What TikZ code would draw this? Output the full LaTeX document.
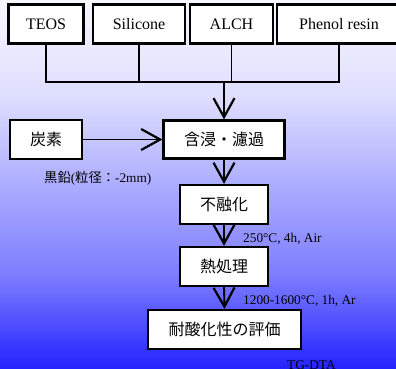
\documentclass[tikz,border=0pt]{standalone}
\usepackage{fontspec}
\setmainfont{Liberation Serif}
\newfontfamily\cjk{Noto Sans CJK JP}
\definecolor{bgA}{RGB}{247,247,255}
\definecolor{bgB}{RGB}{222,222,255}
\definecolor{bgC}{RGB}{172,172,255}
\definecolor{bgD}{RGB}{125,125,255}
\definecolor{bgE}{RGB}{35,35,255}
\usetikzlibrary{arrows.meta,positioning}

\begin{document}
\begin{tikzpicture}[x=1pt, y=-1pt,
  box/.style={draw, line width=2.2pt, fill=white, inner sep=0pt, minimum height=39pt, font=\fontsize{16}{19}\selectfont},
  jbox/.style={box, font=\fontsize{16}{19}\selectfont\cjk},
  note/.style={anchor=base west, inner sep=0pt, font=\fontsize{13.3}{16}\selectfont},
  tree/.style={line width=1.6pt},
  flow/.style={line width=1.9pt, -{Straight Barb[length=19pt,width=21pt,line width=2.2pt]}}]
  \useasboundingbox (0,0) rectangle (396,368);

  %--- Background ---
  \shade[top color=bgA, bottom color=bgB] (0,0) rectangle (396,96.5);
  \shade[top color=bgB, bottom color=bgC] (0,96) rectangle (396,185.5);
  \shade[top color=bgC, bottom color=bgD] (0,185) rectangle (396,275.5);
  \shade[top color=bgD, bottom color=bgE] (0,275) rectangle (396,368);

  %--- Raw materials ---
  \node[box, minimum width=75pt] (teos) at (46,24) {TEOS};
  \node[box, minimum width=92pt] (silicone) at (139,24) {Silicone};
  \node[box, minimum width=83pt] (alch) at (231.5,24) {ALCH};
  \node[box, minimum width=124pt] (phenol) at (339,24) {Phenol resin};

  \coordinate (join) at (224,82);
  \draw[tree] (teos.south) |- (join);
  \draw[tree] (silicone.south) |- (join);
  \draw[tree] (alch.south) |- (join);
  \draw[tree] (phenol.south) |- (join);

  %--- Process ---
  \node[jbox, minimum width=72pt] (carbon) at (46,139.5) {炭素};
  \node[jbox, minimum width=121pt, minimum height=38pt] (impreg) at (224,139.5) {含浸・濾過};
  \node[jbox, minimum width=88pt] (infusible) at (224,204.5) {不融化};
  \node[jbox, minimum width=88pt] (heat) at (224,266.5) {熱処理};
  \node[jbox, minimum width=153pt] (evaluate) at (224.5,329.5) {耐酸化性の評価};

  \draw[flow] (join) -- (impreg.north);
  \draw[flow] (carbon.east) -- (impreg.west);
  \draw[flow] (impreg.south) -- (infusible.north);
  \draw[flow] (infusible.south) -- (heat.north);
  \draw[flow] (heat.south) -- (evaluate.north);

  % Conditions
  \node[note] (graphite) at (44,182) {{\cjk 黒鉛}({\cjk 粒径：}-2mm)};
  \node[note] (cond1) at (243,242) {250°C, 4h, Air};
  \node[note] (cond2) at (243,304) {1200-1600°C, 1h, Ar};
  \node[note] (tgdta) at (287,369) {TG-DTA};
\end{tikzpicture}
\end{document}
